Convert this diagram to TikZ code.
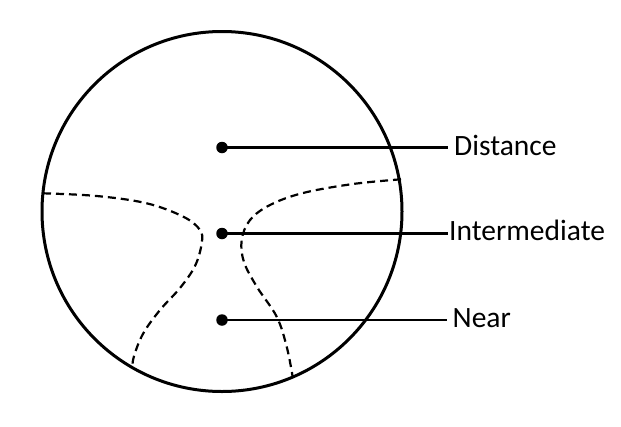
\documentclass[tikz,border=0pt]{standalone}
\usepackage{fontspec}
\setmainfont{Carlito}
\begin{document}
\begin{tikzpicture}[x=1pt,y=-1pt,
  dot/.style={circle,fill=black,inner sep=0pt,minimum size=11.5pt},
  leader/.style={line width=2.2pt},
  zoneline/.style={line width=2.2pt,dash pattern=on 8pt off 5pt},
  lbl/.style={anchor=base west,inner sep=0pt,font=\fontsize{29.5}{33}\selectfont}]
\useasboundingbox (0,0) rectangle (621,426);
\node[draw=none,circle,minimum size=360pt,inner sep=0pt] (lens) at (222,211.5) {};
\draw[line width=3pt] (lens.center) circle[radius=180pt];
\node[dot] (d1) at (222,147.5) {};
\node[dot] (d2) at (222,233.5) {};
\node[dot] (d3) at (222,320) {};
\coordinate (e1) at (448,147.5);
\coordinate (e2) at (448,233.5);
\coordinate (e3) at (447,320);
\draw[leader] (d1.center) -- (e1);
\draw[leader] (d2.center) -- (e2);
\draw[leader] (d3.center) -- (e3);
\node[lbl] (t1) at (454,155) {Distance};
\node[lbl] (t2) at (449,240.5) {Intermediate};
\node[lbl] (t3) at (452.5,327) {Near};
\draw[zoneline] plot[smooth,tension=0.6] coordinates {(43,193.3) (96.7,196) (146.7,203.3) (183.3,216.7) (200,230) (201.7,243.3) (195,266) (180,288) (160,310) (143.3,333.3) (134,356) (132.3,368)};
\draw[zoneline] plot[smooth,tension=0.6] coordinates {(401,179.3) (353,184) (303,193) (270,205) (250,220) (241.7,240) (244,262) (257,287) (276.7,316.7) (286.7,346.7) (292.7,377)};
\end{tikzpicture}
\end{document}
